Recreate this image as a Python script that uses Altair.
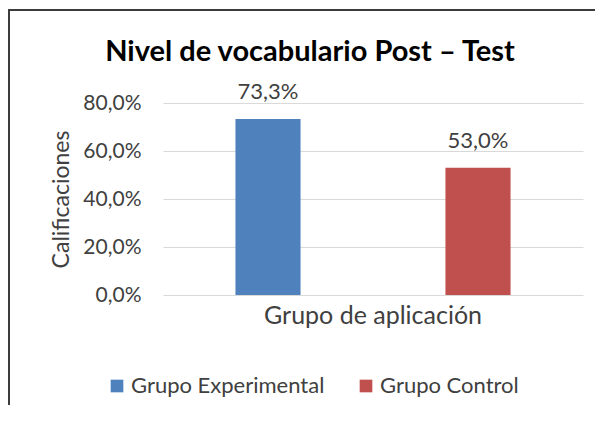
import altair as alt
import pandas as pd

series = ["Grupo Experimental", "Grupo Control"]
values = [0.733, 0.530]
category = ["Grupo de aplicación", "Grupo de aplicación"]
colors = ["#4F81BD", "#C0504D"]
y_ticks = [0.0, 0.2, 0.4, 0.6, 0.8]
title_text = "Nivel de vocabulario Post – Test"

df = pd.DataFrame({"grupo": category, "serie": series, "valor": values})

FONT = "Lato"
TXT = "#404040"

base = alt.Chart(df).transform_calculate(
    etiqueta="replace(format(datum.valor, '.1%'), '.', ',')"
)

x_enc = alt.X(
    "grupo:N",
    title=None,
    scale=alt.Scale(paddingInner=0, paddingOuter=0),
    axis=alt.Axis(
        labelAngle=0, labelFontSize=25, labelColor=TXT, labelFont=FONT,
        ticks=False, domain=False, labelPadding=8, labelLimit=0,
    ),
)
xoff = alt.XOffset(
    "serie:N",
    sort=series,
    scale=alt.Scale(paddingInner=0.69, paddingOuter=0.345),
)

bars = base.mark_bar().encode(
    x=x_enc,
    xOffset=xoff,
    y=alt.Y(
        "valor:Q",
        title="Calificaciones",
        scale=alt.Scale(domain=[0, 0.8], nice=False),
        axis=alt.Axis(
            values=y_ticks,
            labelExpr="replace(format(datum.value, '.1%'), '.', ',')",
            labelFontSize=21, labelColor=TXT, labelFont=FONT,
            ticks=False, domain=False, labelPadding=22,
            gridColor="#D9D9D9", gridWidth=1,
            titleFontSize=23, titleFont=FONT, titleColor=TXT,
            titleFontWeight="normal", titlePadding=9,
        ),
    ),
    color=alt.Color(
        "serie:N",
        sort=series,
        scale=alt.Scale(domain=series, range=colors),
        legend=alt.Legend(
            title=None, orient="none", direction="horizontal",
            legendX=-57, legendY=272,
            symbolType="square", symbolSize=160, symbolStrokeWidth=0,
            labelFontSize=22, labelFont=FONT, labelColor=TXT,
            labelOffset=3, columnPadding=30, labelLimit=0,
        ),
    ),
)

labels = base.mark_text(
    baseline="bottom", dy=-15, fontSize=22, font=FONT, color=TXT
).encode(
    x=alt.X("grupo:N"),
    xOffset=alt.XOffset("serie:N", sort=series),
    y=alt.Y("valor:Q"),
    text="etiqueta:N",
)

frame_df = pd.DataFrame({"k": [0]})
top_line = alt.Chart(frame_df).mark_rule(color="#3c3c3c", strokeWidth=2).encode(
    x=alt.value(-156), x2=alt.value(440), y=alt.value(-93)
)
left_line = alt.Chart(frame_df).mark_rule(color="#3c3c3c", strokeWidth=2).encode(
    x=alt.value(-154), y=alt.value(-94), y2=alt.value(320)
)

title_df = pd.DataFrame({"t": [title_text]})
title_mark = alt.Chart(title_df).mark_text(
    fontSize=29, font=FONT, fontWeight="bold", color="#000000",
    align="center", baseline="middle",
).encode(x=alt.value(147), y=alt.value(-51), text="t:N")

chart = alt.layer(bars, labels, top_line, left_line, title_mark).properties(
    width=420,
    height=192,
    autosize=alt.AutoSizeParams(type="none"),
    padding={"left": 155, "top": 95, "right": 12, "bottom": 110},
).configure_view(stroke=None)

chart.save("out.html", embed_options={"renderer": "svg", "actions": False})
